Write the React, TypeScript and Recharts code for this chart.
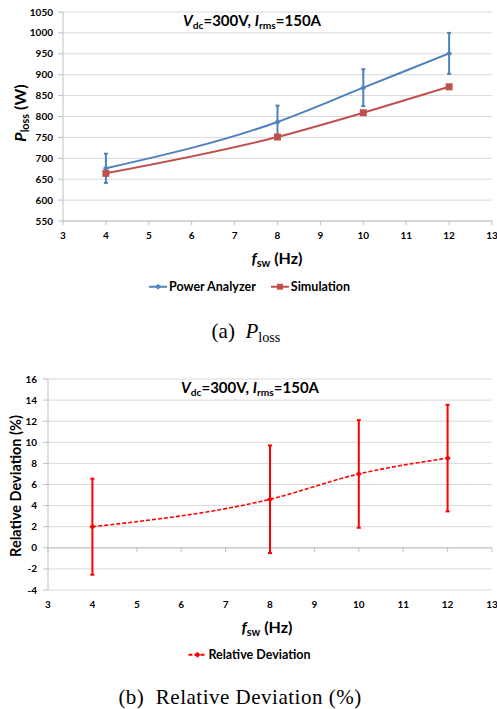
import React from 'react';
import { LineChart, Line, XAxis, YAxis, CartesianGrid, ErrorBar, ReferenceLine } from 'recharts';

// switching frequency (kHz axis labelled Hz) for the measured points
const freqs = [4, 8, 10, 12];
// power loss, W
const analyzerLoss = [676, 787, 869, 951];
const analyzerErr = [35, 39, 44, 49];
const simulationLoss = [664, 751, 809, 871];
// relative deviation, %
const relDeviation = [2.0, 4.6, 7.0, 8.5];
const relDeviationErr = [4.55, 5.1, 5.1, 5.05];

const freqTicks = [3, 4, 5, 6, 7, 8, 9, 10, 11, 12, 13];
const lossTicks = [550, 600, 650, 700, 750, 800, 850, 900, 950, 1000, 1050];
const devTicks = [-4, -2, 0, 2, 4, 6, 8, 10, 12, 14, 16];

const BLUE = '#4F81BD';
const RED = '#C0504D';
const BRIGHT_RED = '#FF0000';
const GRID = '#D9D9D9';
const AXIS = '#BFBFBF';
const FONT = 'Lato, "Open Sans", sans-serif';

const lossData = freqs.map((f, i) => ({
  f,
  analyzer: analyzerLoss[i],
  analyzerErr: analyzerErr[i],
  simulation: simulationLoss[i],
}));

const devData = freqs.map((f, i) => ({
  f,
  dev: relDeviation[i],
  devErr: relDeviationErr[i],
}));

const tickStyle = { fontSize: 10, fontWeight: 700, fill: '#000', fontFamily: FONT };

const diamondDot = (color: string, r: number) => (props: any) => {
  const { cx, cy, index } = props;
  if (cx == null || cy == null) return <g key={index} />;
  return (
    <path
      key={index}
      d={`M${cx},${cy - r}L${cx + r},${cy}L${cx},${cy + r}L${cx - r},${cy}Z`}
      fill={color}
    />
  );
};

const squareDot = (color: string, s: number) => (props: any) => {
  const { cx, cy, index } = props;
  if (cx == null || cy == null) return <g key={index} />;
  return <rect key={index} x={cx - s / 2} y={cy - s / 2} width={s} height={s} fill={color} />;
};

const Sub = ({ children }: { children: React.ReactNode }) => (
  <span style={{ fontSize: '0.68em', position: 'relative', top: '0.28em' }}>{children}</span>
);

const CondTitle = () => (
  <span>
    <i>V</i>
    <Sub>dc</Sub>=300V, <i>I</i>
    <Sub>rms</Sub>=150A
  </span>
);

const Abs = ({ x, y, rotate, style, children }: any) => (
  <div
    style={{
      position: 'absolute',
      left: x,
      top: y,
      transform: `translate(-50%, -50%)${rotate ? ` rotate(${rotate}deg)` : ''}`,
      whiteSpace: 'nowrap',
      fontFamily: FONT,
      fontWeight: 700,
      color: '#000',
      lineHeight: 1,
      ...style,
    }}
  >
    {children}
  </div>
);

const LegendIcon = ({ color, dashed, marker }: { color: string; dashed?: boolean; marker: 'diamond' | 'square' }) => (
  <svg width={20} height={10} style={{ verticalAlign: 'middle', marginRight: 1 }}>
    <line x1={1} y1={5} x2={19} y2={5} stroke={color} strokeWidth={2} strokeDasharray={dashed ? '4 2' : undefined} />
    {marker === 'diamond' ? (
      <path d="M10,2L13,5L10,8L7,5Z" fill={color} />
    ) : (
      <rect x={7} y={2} width={6} height={6} fill={color} />
    )}
  </svg>
);

export default function App() {
  return (
    <div style={{ position: 'absolute', left: 0, top: 0, width: 497, height: 709, background: '#fff' }}>
      {/* (a) power loss */}
      <div style={{ position: 'absolute', left: 0, top: 0 }}>
        <LineChart width={497} height={245} data={lossData} margin={{ top: 12, right: 5, bottom: 0, left: 0 }}>
          <CartesianGrid vertical={false} stroke={GRID} />
          <XAxis
            dataKey="f"
            type="number"
            domain={[3, 13]}
            ticks={freqTicks}
            interval={0}
            height={24}
            tick={tickStyle}
            tickSize={4}
            tickMargin={7}
            stroke={AXIS}
          />
          <YAxis
            type="number"
            domain={[550, 1050]}
            ticks={lossTicks}
            interval={0}
            width={63}
            tick={tickStyle}
            tickSize={5}
            tickMargin={5}
            stroke={AXIS}
          />
          <Line
            type="monotone"
            dataKey="analyzer"
            stroke={BLUE}
            strokeWidth={2}
            dot={diamondDot(BLUE, 3)}
            activeDot={false}
            isAnimationActive={false}
          >
            <ErrorBar dataKey="analyzerErr" direction="y" width={2} strokeWidth={2} stroke={BLUE} />
          </Line>
          <Line
            type="monotone"
            dataKey="simulation"
            stroke={RED}
            strokeWidth={2}
            dot={squareDot(RED, 7)}
            activeDot={false}
            isAnimationActive={false}
          />
        </LineChart>
      </div>
      <Abs x={252} y={20} style={{ fontSize: 15 }}>
        <CondTitle />
      </Abs>
      <Abs x={20} y={113} rotate={-90} style={{ fontSize: 16 }}>
        <i>P</i>
        <Sub>loss</Sub> (W)
      </Abs>
      <Abs x={277} y={258} style={{ fontSize: 16 }}>
        <i>f</i>
        <Sub>sw</Sub> (Hz)
      </Abs>
      <Abs x={249} y={287} style={{ fontSize: 12.5, display: 'flex', alignItems: 'center' }}>
        <LegendIcon color={BLUE} marker="diamond" />
        <span>Power Analyzer</span>
        <span style={{ width: 14, display: 'inline-block' }} />
        <LegendIcon color={RED} marker="square" />
        <span>Simulation</span>
      </Abs>
      <Abs x={246} y={331} style={{ fontSize: 21, fontFamily: '"Liberation Serif", serif', fontWeight: 400 }}>
        (a)&nbsp; <i>P</i>
        <Sub>loss</Sub>
      </Abs>

      {/* (b) relative deviation */}
      <div style={{ position: 'absolute', left: 0, top: 360 }}>
        <LineChart width={497} height={254} data={devData} margin={{ top: 19, right: 5, bottom: 0, left: 0 }}>
          <CartesianGrid vertical={false} stroke={GRID} />
          <XAxis
            dataKey="f"
            type="number"
            domain={[3, 13]}
            ticks={freqTicks}
            interval={0}
            height={24}
            tick={tickStyle}
            tickSize={4}
            tickMargin={7}
            tickLine={false}
            axisLine={false}
          />
          <YAxis
            type="number"
            domain={[-4, 16]}
            ticks={devTicks}
            interval={0}
            width={48}
            tick={tickStyle}
            tickSize={5}
            tickMargin={6}
            stroke={AXIS}
          />
          <ReferenceLine y={0} stroke={AXIS} />
          {freqTicks.map((t) => (
            <ReferenceLine
              key={t}
              segment={[
                { x: t, y: 0 },
                { x: t, y: -0.4 },
              ]}
              stroke={AXIS}
            />
          ))}
          <Line
            type="monotone"
            dataKey="dev"
            stroke={BRIGHT_RED}
            strokeWidth={1.6}
            strokeDasharray="4 2"
            dot={diamondDot(BRIGHT_RED, 3)}
            activeDot={false}
            isAnimationActive={false}
          >
            <ErrorBar dataKey="devErr" direction="y" width={2} strokeWidth={2} stroke={BRIGHT_RED} />
          </Line>
        </LineChart>
      </div>
      <Abs x={250} y={387} style={{ fontSize: 15 }}>
        <CondTitle />
      </Abs>
      <Abs x={16} y={486} rotate={-90} style={{ fontSize: 14.5 }}>
        Relative Deviation (%)
      </Abs>
      <Abs x={267} y={627} style={{ fontSize: 16 }}>
        <i>f</i>
        <Sub>sw</Sub> (Hz)
      </Abs>
      <Abs x={249} y={655} style={{ fontSize: 12.5, display: 'flex', alignItems: 'center' }}>
        <LegendIcon color={BRIGHT_RED} marker="diamond" dashed />
        <span>Relative Deviation</span>
      </Abs>
      <Abs
        x={240}
        y={697}
        style={{ fontSize: 21, letterSpacing: 0.5, fontFamily: '"Liberation Serif", serif', fontWeight: 400 }}
      >
        (b)&nbsp; Relative Deviation (%)
      </Abs>
    </div>
  );
}
